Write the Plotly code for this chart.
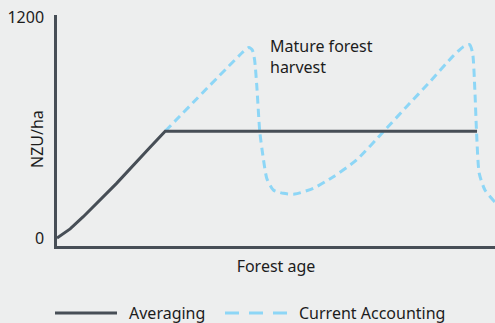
import plotly.graph_objects as go

# forest age (0-100, arbitrary units) and NZU per hectare
avg_age = [0, 3, 6, 13.6, 21.2, 24.7, 95.9]
avg_nzu = [0, 50, 116, 297, 492, 580, 580]

cur_age = [24.7, 42.6, 43.8, 44.6, 45.1, 45.6, 46.3, 47.1, 47.9, 49.4, 51.7, 54.3,
           58.5, 63.1, 68.4, 74.5, 79.8, 85.2, 90.3, 92.8, 94.2, 94.9, 95.4, 95.8,
           96.4, 97.7, 100]
cur_nzu = [580, 1013, 1035, 1020, 970, 831, 577, 433, 324, 261, 243, 239,
           270, 333, 424, 577, 713, 850, 985, 1039, 1050, 1003, 804, 569,
           351, 261, 195]

y_ticks = [0, 1200]

DARK = '#474e56'
BLUE = '#8dd6f6'
TEXT = '#1c1c1c'
BG = '#edeeee'
FONT = 'Noto Sans'

W, H = 495, 323
L, R, T, B = 57, 0, 15, 77


def px_x(px):
    return (px - L) / (W - L - R)


def px_y(py):
    return (H - B - py) / (H - B - T)


fig = go.Figure()

fig.add_trace(go.Scatter(
    x=cur_age, y=cur_nzu, mode='lines', name='Current Accounting',
    line=dict(color=BLUE, width=3, dash='8px,5px', shape='spline', smoothing=0.6),
    showlegend=False,
))
fig.add_trace(go.Scatter(
    x=avg_age, y=avg_nzu, mode='lines', name='Averaging',
    line=dict(color=DARK, width=3),
    showlegend=False,
))

# label
fig.add_annotation(
    x=px_x(268), y=px_y(56.5), xref='paper', yref='paper',
    text='Mature forest<br>harvest', showarrow=False,
    xanchor='left', yanchor='middle', align='left',
    font=dict(size=16, color=TEXT, family=FONT),
)

# y axis title
fig.add_annotation(
    x=px_x(37), y=px_y(139), xref='paper', yref='paper',
    text='NZU/ha', textangle=-90, showarrow=False,
    xanchor='center', yanchor='middle',
    font=dict(size=16, color=TEXT, family=FONT),
)

# legend drawn by hand so the line samples match the original length
leg_y = px_y(313)
fig.add_shape(type='line', xref='paper', yref='paper',
              x0=px_x(55), x1=px_x(117), y0=leg_y, y1=leg_y,
              line=dict(color=DARK, width=3))
fig.add_shape(type='line', xref='paper', yref='paper',
              x0=px_x(225), x1=px_x(289), y0=leg_y, y1=leg_y,
              line=dict(color=BLUE, width=3, dash='14px,10px'))
fig.add_annotation(x=px_x(127), y=leg_y, xref='paper', yref='paper',
                   text='Averaging', showarrow=False, xanchor='left', yanchor='middle',
                   font=dict(size=16, color=TEXT, family=FONT))
fig.add_annotation(x=px_x(297), y=leg_y, xref='paper', yref='paper',
                   text='Current Accounting', showarrow=False, xanchor='left', yanchor='middle',
                   font=dict(size=16, color=TEXT, family=FONT))

fig.update_layout(
    width=W, height=H,
    margin=dict(l=L, r=R, t=T, b=B),
    paper_bgcolor=BG, plot_bgcolor=BG,
    font=dict(family=FONT, size=16, color=TEXT),
    showlegend=False,
    xaxis=dict(
        range=[0, 100], showgrid=False, zeroline=False, showticklabels=False,
        showline=True, linecolor=DARK, linewidth=2.5,
        title=dict(text='Forest age', standoff=14, font=dict(size=16, color=TEXT)),
    ),
    yaxis=dict(
        range=[-43, 1211], showgrid=False, zeroline=False,
        tickvals=y_ticks, ticktext=[str(v) for v in y_ticks],
        showline=True, linecolor=DARK, linewidth=2.5,
        ticklabelstandoff=7, tickfont=dict(size=16, color=TEXT),
    ),
)

# page body has a default 8px margin; drop it so the figure fills the window
fig.write_html("out.html", config={'displayModeBar': False},
               post_script="document.body.style.margin='0';")
